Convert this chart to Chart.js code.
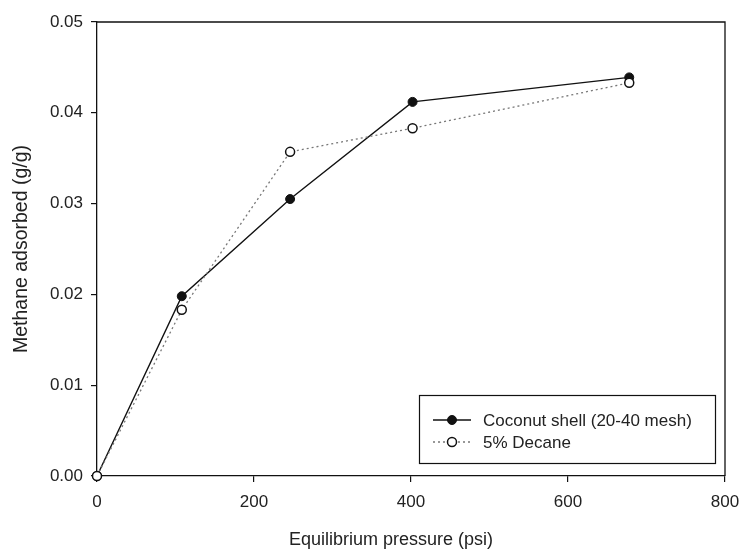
<!DOCTYPE html>
<html>
<head>
<meta charset="utf-8">
<script src="https://cdn.jsdelivr.net/npm/chart.js@4/dist/chart.umd.min.js"></script>
<style>
  html, body { margin: 0; padding: 0; background: #fff; }
</style>
</head>
<body>
<canvas id="adsorption" width="742" height="553"></canvas>
<script>
// values
const pressure = [0, 108, 246, 402, 678];
const coconutShell = [0, 0.0198, 0.0305, 0.0412, 0.0439];
const decane5 = [0, 0.0183, 0.0357, 0.0383, 0.0433];
const seriesNames = ["Coconut shell (20-40 mesh)", "5% Decane"];
const xTicks = [0, 200, 400, 600, 800];
const yTicks = [0, 0.01, 0.02, 0.03, 0.04, 0.05];

const FONT = "'Liberation Sans', Arial, sans-serif";
Chart.defaults.font.family = FONT;
Chart.defaults.color = "#222";

function toPoints(xs, ys) {
  return xs.map((x, i) => ({x: x, y: ys[i]}));
}

// closes the frame (top/right) and draws the boxed legend in the corner
const frameAndLegend = {
  id: "frameAndLegend",
  afterDraw(chart) {
    const ctx = chart.ctx;
    const a = chart.chartArea;
    ctx.save();
    ctx.strokeStyle = "#111";
    ctx.lineWidth = 1.3;
    ctx.beginPath();
    ctx.moveTo(a.left, a.top);
    ctx.lineTo(a.right, a.top);
    ctx.lineTo(a.right, a.bottom);
    ctx.stroke();

    // legend box
    const bx = 419, by = 395, bw = 296, bh = 68;
    ctx.lineWidth = 1.2;
    ctx.strokeRect(bx + 0.5, by + 0.5, bw, bh);

    const rows = [420, 442];
    chart.data.datasets.forEach((ds, i) => {
      const y = rows[i];
      ctx.strokeStyle = ds.borderColor;
      ctx.lineWidth = ds.borderWidth;
      ctx.setLineDash(ds.borderDash || []);
      ctx.beginPath();
      ctx.moveTo(433, y);
      ctx.lineTo(471, y);
      ctx.stroke();
      ctx.setLineDash([]);
      ctx.beginPath();
      ctx.arc(452, y, ds.pointRadius, 0, Math.PI * 2);
      ctx.fillStyle = ds.pointBackgroundColor;
      ctx.fill();
      ctx.lineWidth = ds.pointBorderWidth;
      ctx.strokeStyle = "#111";
      ctx.stroke();
      ctx.fillStyle = "#222";
      ctx.font = "17px " + FONT;
      ctx.textBaseline = "middle";
      ctx.fillText(ds.label, 483, y + 1);
    });
    ctx.restore();
  }
};

const ctx = document.getElementById("adsorption");
new Chart(ctx, {
  type: "line",
  data: {
    datasets: [
      {
        label: seriesNames[0],
        data: toPoints(pressure, coconutShell),
        borderColor: "#111",
        borderWidth: 1.4,
        pointRadius: 4.5,
        pointBackgroundColor: "#111",
        pointBorderColor: "#111",
        pointBorderWidth: 1,
        order: 1,
        clip: false
      },
      {
        label: seriesNames[1],
        data: toPoints(pressure, decane5),
        borderColor: "#777",
        borderWidth: 1.3,
        borderDash: [2, 3],
        pointRadius: 4.5,
        pointBackgroundColor: "#fff",
        pointBorderColor: "#111",
        pointBorderWidth: 1.5,
        order: 0,
        clip: false
      }
    ]
  },
  options: {
    responsive: false,
    animation: false,
    layout: { padding: { top: 22, right: 17, left: 0, bottom: 0 } },
    plugins: {
      legend: { display: false },
      tooltip: { enabled: false }
    },
    scales: {
      x: {
        type: "linear",
        min: 0,
        max: 800,
        afterBuildTicks: axis => { axis.ticks = xTicks.map(v => ({value: v})); },
        afterFit: axis => {
          axis.height = 77;
          axis.paddingLeft = 0;
          axis.paddingRight = 0;
        },
        grid: { drawOnChartArea: false, drawTicks: true, tickLength: 6, color: "#111", lineWidth: 1.2 },
        border: { display: true, color: "#111", width: 1.3 },
        ticks: { padding: 10, maxRotation: 0, font: { size: 17 }, color: "#222" },
        title: {
          display: true,
          // trailing spaces nudge the title left of the axis centre, as in the figure
          text: "Equilibrium pressure (psi)        ",
          font: { size: 18 },
          color: "#222",
          padding: { top: 0, bottom: 2 }
        }
      },
      y: {
        type: "linear",
        min: 0,
        max: 0.05,
        afterBuildTicks: axis => { axis.ticks = yTicks.map(v => ({value: v})); },
        afterFit: axis => {
          axis.width = 97;
          axis.paddingTop = 0;
          axis.paddingBottom = 0;
        },
        grid: { drawOnChartArea: false, drawTicks: true, tickLength: 6, color: "#111", lineWidth: 1.2 },
        border: { display: true, color: "#111", width: 1.3 },
        ticks: {
          padding: 8,
          font: { size: 17 },
          color: "#222",
          callback: v => v.toFixed(2)
        },
        title: {
          display: true,
          text: "Methane adsorbed (g/g)",
          font: { size: 19.5 },
          color: "#222",
          padding: { top: 10, bottom: 0 }
        }
      }
    }
  },
  plugins: [frameAndLegend]
});
</script>
</body>
</html>
